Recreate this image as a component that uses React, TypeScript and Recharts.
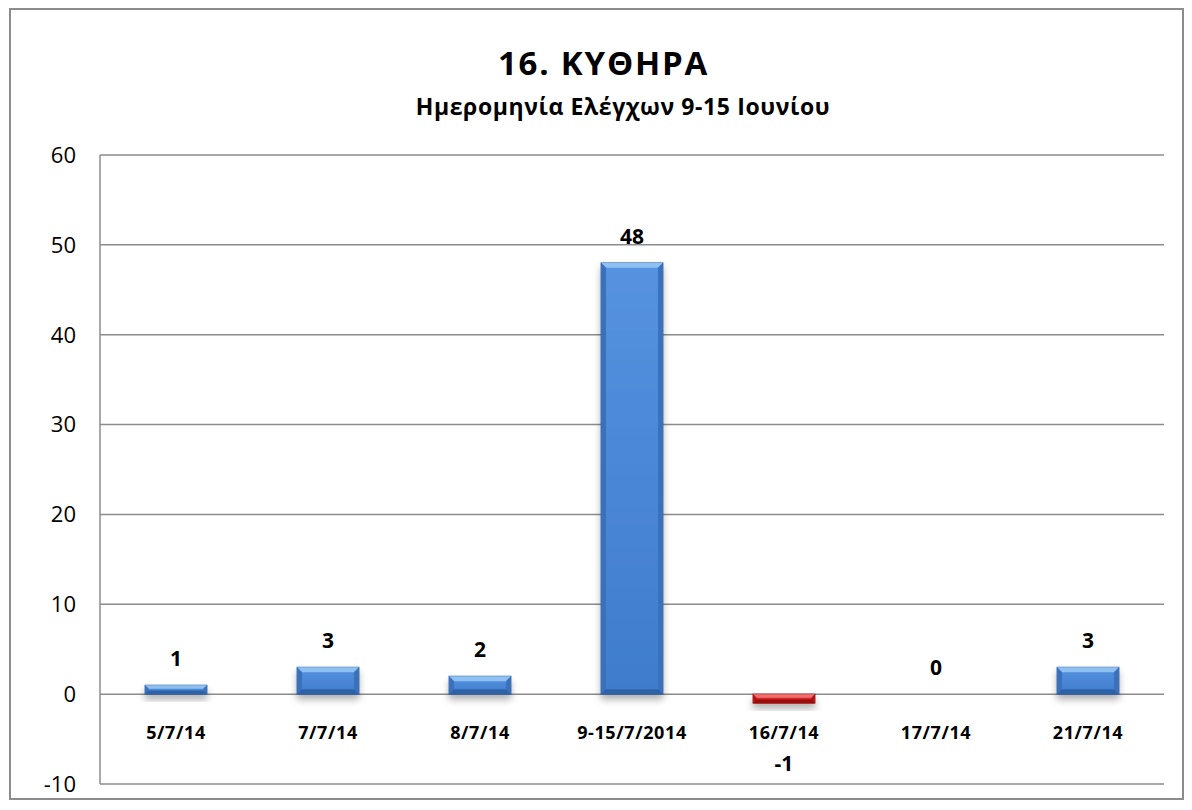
import React from 'react';
import { BarChart, Bar, YAxis, XAxis, CartesianGrid, LabelList, Cell } from 'recharts';

const categories = ['5/7/14', '7/7/14', '8/7/14', '9-15/7/2014', '16/7/14', '17/7/14', '21/7/14'];
const values = [1, 3, 2, 48, -1, 0, 3];
const yTicks = [-10, 0, 10, 20, 30, 40, 50, 60];

const data = categories.map((name, i) => ({ name, value: values[i] }));

const FONT = '"Open Sans", "Noto Sans", sans-serif';

const BevelBar = (props: any) => {
  const { x, y, width, height, value } = props;
  if (!width || !height) return null;
  const top = Math.min(y, y + height);
  const h = Math.abs(height);
  const neg = value < 0;
  const b = Math.min(5, h / 2.5);
  const light = neg ? '#f07070' : '#8fc0f2';
  const dark = neg ? '#9a0a0a' : '#2f62a8';
  const side = neg ? '#b01414' : '#3a70ba';
  const face = neg ? 'url(#redFace)' : 'url(#blueFace)';
  const r = x + width;
  const bot = top + h;
  return (
    <g filter="url(#barShadow)">
      <rect x={x} y={top} width={width} height={h} fill={face} stroke={neg ? '#8a0a0a' : '#2c5a9c'} strokeWidth={0.8} />
      <polygon points={`${x},${top} ${r},${top} ${r - b},${top + b} ${x + b},${top + b}`} fill={light} />
      <polygon points={`${x},${top} ${x + b},${top + b} ${x + b},${bot - b} ${x},${bot}`} fill={side} />
      <polygon points={`${r},${top} ${r},${bot} ${r - b},${bot - b} ${r - b},${top + b}`} fill={side} />
      <polygon points={`${x},${bot} ${x + b},${bot - b} ${r - b},${bot - b} ${r},${bot}`} fill={dark} />
    </g>
  );
};

const ValueLabel = (props: any) => {
  const { x, y, width, height, value } = props;
  const barTop = Math.min(y, y + height);
  const barBot = Math.max(y, y + height);
  const ty = value < 0 ? barBot + 60 : barTop - 27;
  return (
    <text x={x + width / 2} y={ty} textAnchor="middle" dominantBaseline="central"
      fontFamily={FONT} fontSize={21} fontWeight="bold" fill="#000">
      {value}
    </text>
  );
};

const CategoryLabel = (props: any) => {
  const { x, y, width, height, index } = props;
  const v = values[index];
  const zeroY = v < 0 ? Math.min(y, y + height) : Math.max(y, y + height);
  return (
    <text x={x + width / 2} y={zeroY + 38} textAnchor="middle" dominantBaseline="central"
      fontFamily={FONT} fontSize={18} fontWeight="bold" fill="#000" letterSpacing={0.6}>
      {categories[index]}
    </text>
  );
};

export default function App() {
  return (
    <div style={{ position: 'relative', width: 1171, height: 788, marginLeft: 1, border: '2px solid #8c8c8c', background: '#fff', fontFamily: FONT }}>
      <style>{'html, body { overflow: hidden; }'}</style>
      <div style={{ position: 'absolute', left: 0, width: 1185, top: 52, transform: 'translateY(-50%)', textAlign: 'center', fontSize: 33, fontWeight: 'bold', lineHeight: 1, letterSpacing: 1.8 }}>
        16. ΚΥΘΗΡΑ
      </div>
      <div style={{ position: 'absolute', left: 0, width: 1224, top: 96, transform: 'translateY(-50%)', textAlign: 'center', fontSize: 23, fontWeight: 'bold', lineHeight: 1, letterSpacing: 0.6 }}>
        Ημερομηνία Ελέγχων 9-15 Ιουνίου
      </div>
      <BarChart width={1171} height={790} data={data} margin={{ top: 145, right: 18, bottom: 16, left: 0 }} style={{ position: 'absolute', left: 0, top: 0 }}>
        <defs>
          <linearGradient id="blueFace" x1="0" y1="0" x2="0" y2="1">
            <stop offset="0%" stopColor="#5592e0" />
            <stop offset="100%" stopColor="#3f7ccc" />
          </linearGradient>
          <linearGradient id="redFace" x1="0" y1="0" x2="0" y2="1">
            <stop offset="0%" stopColor="#e43030" />
            <stop offset="100%" stopColor="#c41a1a" />
          </linearGradient>
          <filter id="barShadow" x="-20%" y="-20%" width="140%" height="200%">
            <feDropShadow dx="0" dy="5" stdDeviation="3.5" floodColor="#000" floodOpacity="0.3" />
          </filter>
        </defs>
        <CartesianGrid vertical={false} stroke="#8c8c8c" strokeWidth={1.5} />
        <XAxis dataKey="name" hide />
        <YAxis
          width={89}
          domain={[-10, 60]}
          ticks={yTicks}
          interval={0}
          tickLine={false}
          tickSize={0}
          tickMargin={24}
          axisLine={{ stroke: '#8c8c8c', strokeWidth: 1.5 }}
          tick={{ fill: '#000', fontSize: 22, fontFamily: FONT }}
        />
        <Bar dataKey="value" barSize={62} shape={<BevelBar />} isAnimationActive={false}>
          {data.map((d, i) => (
            <Cell key={i} fill={d.value < 0 ? '#d02020' : '#4a86d4'} />
          ))}
          <LabelList dataKey="value" content={<ValueLabel />} />
          <LabelList dataKey="name" content={<CategoryLabel />} />
        </Bar>
      </BarChart>
    </div>
  );
}
